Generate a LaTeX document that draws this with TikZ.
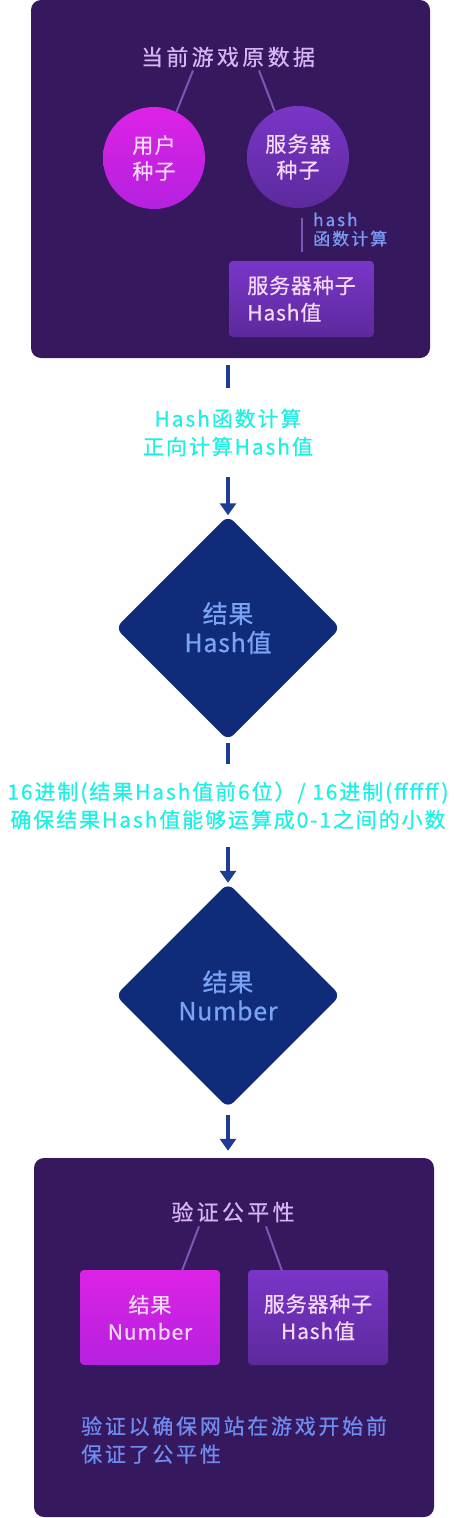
\documentclass[tikz,border=0pt]{standalone}
\usepackage{fontspec}
\setmainfont{Noto Sans CJK SC}[FakeBold=0.6]
\usetikzlibrary{shapes.geometric,arrows.meta}
\definecolor{panelc}{HTML}{36185E}
\definecolor{titlec}{HTML}{D7B4F2}
\definecolor{linkc}{HTML}{7F55B5}
\definecolor{magtop}{HTML}{DD22E6}
\definecolor{magbot}{HTML}{B521DF}
\definecolor{purtop}{HTML}{7A35C8}
\definecolor{purbot}{HTML}{5C2A9C}
\definecolor{lighttext}{HTML}{F4DAF8}
\definecolor{hashc}{HTML}{7B9BF5}
\definecolor{diamc}{HTML}{102B7A}
\definecolor{diamtext}{HTML}{7BA3F5}
\definecolor{arrc}{HTML}{1E3C96}
\definecolor{cyanc}{HTML}{1CF0E2}
\definecolor{notec}{HTML}{6F8CF0}
\begin{document}
\begin{tikzpicture}[x=1pt,y=-1pt,
  panel/.style={fill=panelc, rounded corners=10pt, inner sep=0pt},
  ptitle/.style={text=titlec, inner sep=0pt, font=\fontsize{22}{26}\selectfont\addfontfeatures{LetterSpace=15}},
  link/.style={draw=linkc, line width=2pt},
  magcircle/.style={circle, minimum size=102pt, inner sep=0pt, top color=magtop, bottom color=magbot, draw=none, text=lighttext, align=center, font=\fontsize{21}{26}\selectfont\addfontfeatures{LetterSpace=6}},
  purcircle/.style={magcircle, top color=purtop, bottom color=purbot},
  magbox/.style={rectangle, rounded corners=4pt, inner sep=0pt, top color=magtop, bottom color=magbot, text=lighttext, align=center, font=\fontsize{21}{27}\selectfont\addfontfeatures{LetterSpace=4}},
  purbox/.style={magbox, top color=purtop, bottom color=purbot},
  diam/.style={diamond, aspect=1, minimum width=225pt, minimum height=225pt, inner sep=0pt, fill=diamc, rounded corners=8pt, text=diamtext, align=center, font=\fontsize{25}{29}\selectfont\addfontfeatures{LetterSpace=3}},
  cyanlbl/.style={text=cyanc, align=center, inner sep=0pt, font=\fontsize{21}{28}\selectfont\addfontfeatures{LetterSpace=9}},
  seg/.style={draw=arrc, line width=4pt},
  arr/.style={seg, -{Triangle[width=16pt,length=12pt]}},
]
\useasboundingbox (0,0) rectangle (453,1518);

% ---------- top panel ----------
\node[panel, minimum width=399pt, minimum height=358pt] (topbox) at (230.5,179) {};
\node[ptitle] (t1) at (228,57) {当前游戏原数据};
\node[magcircle] (c1) at (154,158) {用户\\种子};
\node[purcircle] (c2) at (298,157) {服务器\\种子};
\draw[link] ([xshift=-35pt,yshift=-3pt]t1.south) -- (c1.64);
\draw[link] ([xshift=31pt,yshift=-3pt]t1.south) -- (c2.117);
\node[purbox, minimum width=145pt, minimum height=76pt, align=left] (b1) at (301.5,299) {服务器种子\\Hash值};
\draw[link] (b1.north) -- (b1.north |- c2.south) [shorten <=9pt, shorten >=10pt];
\node[text=hashc, anchor=west, align=left, inner sep=0pt,
      font=\fontsize{17}{19}\selectfont\addfontfeatures{LetterSpace=12}] (hl) at (313,229.5) {hash\\函数计算};

% ---------- flow ----------
\node[cyanlbl, minimum height=89pt] (lbl1) at (228,432.5) {Hash函数计算\\正向计算Hash值};
\draw[seg, shorten <=7pt] (lbl1.north |- topbox.south) -- (lbl1.north);
\node[diam] (d1) at (228,628) {结果\\Hash值};
\draw[arr] (lbl1.south) -- (d1.north);

\node[cyanlbl, minimum height=83pt] (lbl2) at (228,805.5) {16进制(结果Hash值前6位）/ 16进制(ffffff)\\确保结果Hash值能够运算成0-1之间的小数};
\draw[seg, shorten <=2pt] (d1.south) -- (lbl2.north);
\node[diam] (d2) at (228,995.5) {结果\\Number};
\draw[arr] (lbl2.south) -- (d2.north);

% ---------- bottom panel ----------
\node[panel, minimum width=400pt, minimum height=359pt] (botbox) at (234,1337.5) {};
\draw[arr, shorten <=7pt, shorten >=7pt] (d2.south) -- (d2.south |- botbox.north);
\node[ptitle] (t2) at (233,1212) {验证公平性};
\node[magbox, minimum width=140pt, minimum height=95pt] (n1) at (150,1317.5) {结果\\Number};
\node[purbox, minimum width=140pt, minimum height=95pt] (n2) at (318,1317.5) {服务器种子\\Hash值};
\draw[link] ([xshift=-34pt,yshift=-4pt]t2.south) -- ([xshift=32pt,yshift=-1pt]n1.north);
\draw[link] ([xshift=33pt,yshift=-4pt]t2.south) -- ([xshift=-36pt,yshift=-1pt]n2.north);
\node[text=notec, anchor=west, align=left, inner sep=0pt,
      font=\fontsize{21}{28}\selectfont\addfontfeatures{LetterSpace=13}] (note) at (81,1440) {验证以确保网站在游戏开始前\\保证了公平性};
\end{tikzpicture}
\end{document}
